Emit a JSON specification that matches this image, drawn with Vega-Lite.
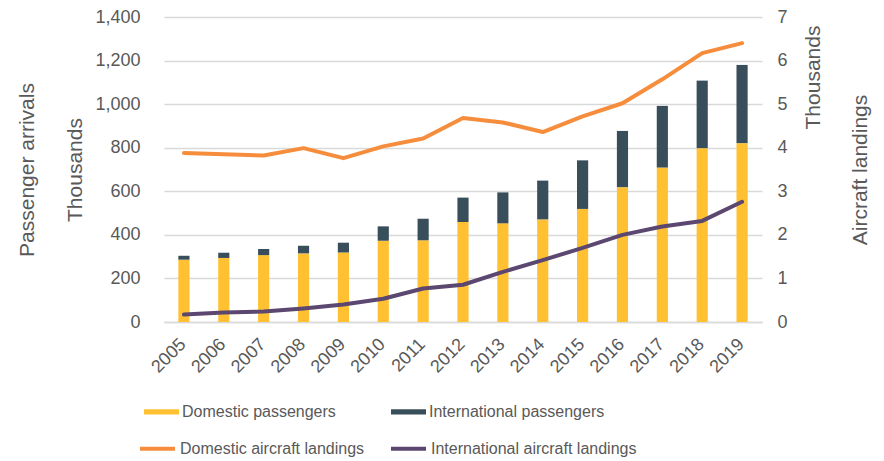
{
  "$schema": "https://vega.github.io/schema/vega-lite/v6.json",
  "width": 598,
  "height": 305,
  "padding": {"left": 16, "top": 8, "right": 5, "bottom": 2},
  "background": "white",
  "config": {
    "view": {"stroke": null},
    "font": "Liberation Sans",
    "axis": {"labelFont": "Liberation Sans", "titleFont": "Liberation Sans", "labelColor": "#595959", "titleColor": "#595959", "titleFontWeight": "normal", "labelFontSize": 18, "titleFontSize": 21},
    "legend": {"labelFont": "Liberation Sans", "labelFontSize": 16, "labelColor": "#595959", "labelLimit": 400, "title": null, "labelOffset": 3, "symbolSize": 1225, "direction": "horizontal", "orient": "none"}
  },
  "data": {"values": [
    {"year": "2005", "kind": "passengers", "series": "Domestic passengers", "value": 286},
    {"year": "2006", "kind": "passengers", "series": "Domestic passengers", "value": 294},
    {"year": "2007", "kind": "passengers", "series": "Domestic passengers", "value": 307},
    {"year": "2008", "kind": "passengers", "series": "Domestic passengers", "value": 315},
    {"year": "2009", "kind": "passengers", "series": "Domestic passengers", "value": 319},
    {"year": "2010", "kind": "passengers", "series": "Domestic passengers", "value": 373},
    {"year": "2011", "kind": "passengers", "series": "Domestic passengers", "value": 375},
    {"year": "2012", "kind": "passengers", "series": "Domestic passengers", "value": 459},
    {"year": "2013", "kind": "passengers", "series": "Domestic passengers", "value": 453},
    {"year": "2014", "kind": "passengers", "series": "Domestic passengers", "value": 471},
    {"year": "2015", "kind": "passengers", "series": "Domestic passengers", "value": 519},
    {"year": "2016", "kind": "passengers", "series": "Domestic passengers", "value": 619},
    {"year": "2017", "kind": "passengers", "series": "Domestic passengers", "value": 709},
    {"year": "2018", "kind": "passengers", "series": "Domestic passengers", "value": 798},
    {"year": "2019", "kind": "passengers", "series": "Domestic passengers", "value": 821},
    {"year": "2005", "kind": "passengers", "series": "International passengers", "value": 18},
    {"year": "2006", "kind": "passengers", "series": "International passengers", "value": 24},
    {"year": "2007", "kind": "passengers", "series": "International passengers", "value": 28},
    {"year": "2008", "kind": "passengers", "series": "International passengers", "value": 35},
    {"year": "2009", "kind": "passengers", "series": "International passengers", "value": 45},
    {"year": "2010", "kind": "passengers", "series": "International passengers", "value": 66},
    {"year": "2011", "kind": "passengers", "series": "International passengers", "value": 99},
    {"year": "2012", "kind": "passengers", "series": "International passengers", "value": 112},
    {"year": "2013", "kind": "passengers", "series": "International passengers", "value": 142},
    {"year": "2014", "kind": "passengers", "series": "International passengers", "value": 178},
    {"year": "2015", "kind": "passengers", "series": "International passengers", "value": 223},
    {"year": "2016", "kind": "passengers", "series": "International passengers", "value": 258},
    {"year": "2017", "kind": "passengers", "series": "International passengers", "value": 283},
    {"year": "2018", "kind": "passengers", "series": "International passengers", "value": 310},
    {"year": "2019", "kind": "passengers", "series": "International passengers", "value": 359},
    {"year": "2005", "kind": "landings", "series": "Domestic aircraft landings", "value": 3.88},
    {"year": "2006", "kind": "landings", "series": "Domestic aircraft landings", "value": 3.85},
    {"year": "2007", "kind": "landings", "series": "Domestic aircraft landings", "value": 3.82},
    {"year": "2008", "kind": "landings", "series": "Domestic aircraft landings", "value": 3.99},
    {"year": "2009", "kind": "landings", "series": "Domestic aircraft landings", "value": 3.76},
    {"year": "2010", "kind": "landings", "series": "Domestic aircraft landings", "value": 4.03},
    {"year": "2011", "kind": "landings", "series": "Domestic aircraft landings", "value": 4.21},
    {"year": "2012", "kind": "landings", "series": "Domestic aircraft landings", "value": 4.68},
    {"year": "2013", "kind": "landings", "series": "Domestic aircraft landings", "value": 4.58},
    {"year": "2014", "kind": "landings", "series": "Domestic aircraft landings", "value": 4.36},
    {"year": "2015", "kind": "landings", "series": "Domestic aircraft landings", "value": 4.72},
    {"year": "2016", "kind": "landings", "series": "Domestic aircraft landings", "value": 5.02},
    {"year": "2017", "kind": "landings", "series": "Domestic aircraft landings", "value": 5.57},
    {"year": "2018", "kind": "landings", "series": "Domestic aircraft landings", "value": 6.17},
    {"year": "2019", "kind": "landings", "series": "Domestic aircraft landings", "value": 6.40},
    {"year": "2005", "kind": "landings", "series": "International aircraft landings", "value": 0.17},
    {"year": "2006", "kind": "landings", "series": "International aircraft landings", "value": 0.22},
    {"year": "2007", "kind": "landings", "series": "International aircraft landings", "value": 0.24},
    {"year": "2008", "kind": "landings", "series": "International aircraft landings", "value": 0.31},
    {"year": "2009", "kind": "landings", "series": "International aircraft landings", "value": 0.40},
    {"year": "2010", "kind": "landings", "series": "International aircraft landings", "value": 0.535},
    {"year": "2011", "kind": "landings", "series": "International aircraft landings", "value": 0.77},
    {"year": "2012", "kind": "landings", "series": "International aircraft landings", "value": 0.855},
    {"year": "2013", "kind": "landings", "series": "International aircraft landings", "value": 1.15},
    {"year": "2014", "kind": "landings", "series": "International aircraft landings", "value": 1.42},
    {"year": "2015", "kind": "landings", "series": "International aircraft landings", "value": 1.70},
    {"year": "2016", "kind": "landings", "series": "International aircraft landings", "value": 2.00},
    {"year": "2017", "kind": "landings", "series": "International aircraft landings", "value": 2.19},
    {"year": "2018", "kind": "landings", "series": "International aircraft landings", "value": 2.32},
    {"year": "2019", "kind": "landings", "series": "International aircraft landings", "value": 2.76}
  ]},
  "encoding": {
    "x": {
      "field": "year", "type": "ordinal",
      "scale": {"type": "band", "paddingInner": 0.72, "paddingOuter": 0.36},
      "axis": {
        "labelAngle": -45, "ticks": false, "domainColor": "#D9D9D9", "domainWidth": 1.5, "labelPadding": 13, "labelOffset": -7,
        "title": "Thousands", "titleAngle": -90, "titleX": 649, "titleY": -245, "titleAlign": "center", "titleBaseline": "middle"
      }
    }
  },
  "layer": [
    {
      "transform": [{"filter": "datum.kind == 'passengers'"}],
      "mark": {"type": "bar"},
      "encoding": {
        "y": {
          "field": "value", "type": "quantitative", "stack": "zero",
          "scale": {"domain": [0, 1400]},
          "axis": {
            "values": [0, 200, 400, 600, 800, 1000, 1200, 1400], "format": ",.0f",
            "ticks": false, "domain": false, "labelPadding": 24,
            "gridColor": "#D9D9D9", "gridWidth": 1.5,
            "title": ["Passenger arrivals", "Thousands"], "titleLineHeight": 48, "titlePadding": 9
          }
        },
        "fill": {
          "field": "series", "type": "nominal",
          "scale": {"domain": ["Domestic passengers", "International passengers"], "range": ["#FFC132", "#384F5B"]},
          "legend": {"legendX": -20, "legendY": 377, "columnPadding": 55, "symbolType": "M-1,-0.15H1V0.15H-1Z", "symbolStrokeWidth": 0}
        },
        "order": {"field": "series", "sort": "ascending"}
      }
    },
    {
      "transform": [{"filter": "datum.kind == 'landings'"}],
      "mark": {"type": "line", "strokeWidth": 4, "strokeCap": "round", "strokeJoin": "round"},
      "encoding": {
        "y": {
          "field": "value", "type": "quantitative",
          "scale": {"domain": [0, 7]},
          "axis": {
            "values": [0, 1, 2, 3, 4, 5, 6, 7], "format": "d", "orient": "right",
            "ticks": false, "domain": false, "grid": false, "labelPadding": 15,
            "title": "Aircraft landings", "titleAngle": -90, "titleBaseline": "top", "titlePadding": 62
          }
        },
        "stroke": {
          "field": "series", "type": "nominal",
          "scale": {"domain": ["Domestic aircraft landings", "International aircraft landings"], "range": ["#F68D3C", "#5B4770"]},
          "legend": {"legendX": -26, "legendY": 412, "columnPadding": 18, "symbolType": "stroke", "symbolStrokeWidth": 4}
        }
      }
    }
  ],
  "resolve": {"scale": {"y": "independent"}}
}
